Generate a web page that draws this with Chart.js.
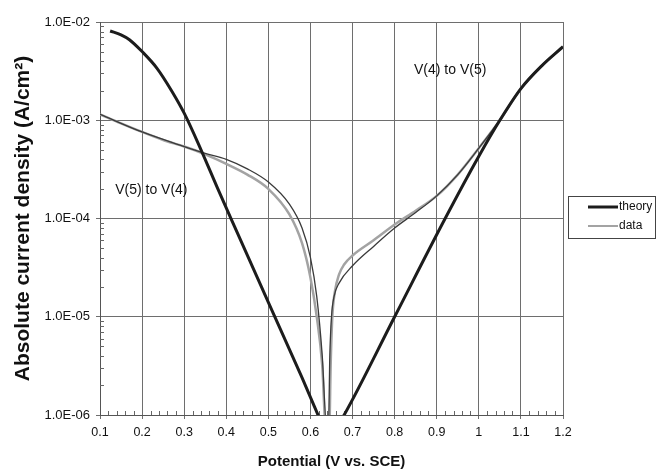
<!DOCTYPE html>
<html>
<head>
<meta charset="utf-8">
<script src="https://cdn.jsdelivr.net/npm/chart.js@4.4.1/dist/chart.umd.min.js"></script>
<style>
  html, body { margin: 0; padding: 0; background: #fff; }
  #wrap { width: 661px; height: 472px; }
</style>
</head>
<body>
<div id="wrap"><canvas id="chart"></canvas></div>
<script>
// theory curve (two Tafel branches), potential in V vs SCE, current in A/cm2
const theoryLeftV = [0.124, 0.15, 0.17, 0.2, 0.235, 0.27, 0.3, 0.34, 0.38, 0.42, 0.5, 0.58, 0.625];
const theoryLeftI = [8.1e-3, 7.4e-3, 6.6e-3, 5.0e-3, 3.4e-3, 2.0e-3, 1.18e-3, 5.0e-4, 2.0e-4, 8.2e-5, 1.4e-5, 2.4e-6, 8.5e-7];
const theoryRightV = [0.665, 0.68, 0.8, 0.92, 1.0, 1.05, 1.1, 1.15, 1.2];
const theoryRightI = [7.9e-7, 1.0e-6, 1.0e-5, 1.0e-4, 4.3e-4, 1.0e-3, 2.1e-3, 3.6e-3, 5.6e-3];

// measured data (grey trace)
const dataV = [0.1, 0.15, 0.2, 0.25, 0.3, 0.35, 0.4, 0.45, 0.5, 0.55, 0.58, 0.6, 0.615, 0.628, 0.636,
  0.645, 0.648, 0.652, 0.658, 0.668, 0.68, 0.7, 0.75, 0.8, 0.85, 0.9, 0.95, 1.0, 1.05, 1.1, 1.15, 1.2];
const dataI = [1.15e-3, 9.3e-4, 7.6e-4, 6.3e-4, 5.4e-4, 4.5e-4, 3.6e-4, 2.8e-4, 2.0e-4, 1.1e-4, 5.6e-5, 2.5e-5, 1.0e-5, 3.2e-6, 8e-7,
  8e-7, 3.2e-6, 1.0e-5, 1.8e-5, 2.7e-5, 3.4e-5, 4.2e-5, 6.0e-5, 8.7e-5, 1.2e-4, 1.7e-4, 2.8e-4, 5.2e-4, 1.0e-3, 2.1e-3, 3.6e-3, 5.6e-3];

// second (darker) scan running alongside the data
const scan2V = [0.1, 0.2, 0.3, 0.35, 0.4, 0.45, 0.5, 0.55, 0.58, 0.6, 0.615, 0.628, 0.638,
  0.643, 0.646, 0.65, 0.656, 0.668, 0.7, 0.75, 0.8, 0.85, 0.9, 0.95, 1.0, 1.05];
const scan2I = [1.15e-3, 7.6e-4, 5.4e-4, 4.6e-4, 4.0e-4, 3.2e-4, 2.35e-4, 1.4e-4, 8.0e-5, 4.0e-5, 1.6e-5, 4.0e-6, 8e-7,
  8e-7, 4.0e-6, 1.0e-5, 1.6e-5, 2.2e-5, 3.3e-5, 5.2e-5, 8.0e-5, 1.15e-4, 1.7e-4, 2.8e-4, 5.2e-4, 1.0e-3];

const yDecades = [1e-6, 1e-5, 1e-4, 1e-3, 1e-2];
const legendNames = ['theory', 'data'];

// annotation positions in data units
const notes = [
  { text: 'V(4) to V(5)', x: 0.846, y: 3.2e-3 },
  { text: 'V(5) to V(4)', x: 0.136, y: 1.95e-4 }
];

function pts(xs, ys) {
  return xs.map((x, i) => ({ x: x, y: ys[i] }));
}

const theoryColor = '#1c1c1c';
const dataColor = '#a3a3a3';
const font = 'Arial, "Liberation Sans", sans-serif';

const extras = {
  id: 'extras',
  beforeDatasetsDraw(chart) {
    const ctx = chart.ctx;
    const xs = chart.scales.x, ys = chart.scales.y;
    const area = chart.chartArea;
    ctx.save();
    ctx.strokeStyle = '#666';
    ctx.lineWidth = 1;
    ctx.beginPath();
    // minor ticks on the y axis
    for (let d = -6; d < -2; d++) {
      for (let k = 2; k < 10; k++) {
        const py = Math.round(ys.getPixelForValue(k * Math.pow(10, d))) + 0.5;
        ctx.moveTo(area.left, py);
        ctx.lineTo(area.left + 4, py);
      }
    }
    // minor ticks on the x axis
    for (let i = 1; i < 55; i++) {
      if (i % 5 === 0) continue;
      const px = Math.round(xs.getPixelForValue(0.1 + i * 0.02)) + 0.5;
      ctx.moveTo(px, area.bottom);
      ctx.lineTo(px, area.bottom - 4);
    }
    ctx.stroke();
    ctx.restore();
  },
  afterDraw(chart) {
    const ctx = chart.ctx;
    const xs = chart.scales.x, ys = chart.scales.y;
    const area = chart.chartArea;
    ctx.save();
    ctx.fillStyle = '#111';
    ctx.font = '14px ' + font;
    ctx.textAlign = 'left';
    ctx.textBaseline = 'middle';
    notes.forEach(n => {
      ctx.fillText(n.text, xs.getPixelForValue(n.x), ys.getPixelForValue(n.y));
    });

    // legend box
    const bx = area.right + 5, by = 196, bw = 87, bh = 42;
    ctx.strokeStyle = '#444';
    ctx.lineWidth = 1;
    ctx.strokeRect(bx + 0.5, by + 0.5, bw, bh);
    ctx.font = '12px ' + font;
    const cols = [theoryColor, dataColor];
    const widths = [3, 2];
    legendNames.forEach((name, i) => {
      const ly = by + 11 + i * 19;
      ctx.strokeStyle = cols[i];
      ctx.lineWidth = widths[i];
      ctx.beginPath();
      ctx.moveTo(bx + 20, ly);
      ctx.lineTo(bx + 50, ly);
      ctx.stroke();
      ctx.fillStyle = '#111';
      ctx.fillText(name, bx + 51, ly);
    });
    ctx.restore();
  }
};

new Chart(document.getElementById('chart'), {
  type: 'line',
  data: {
    datasets: [
      {
        label: 'theory',
        data: pts(theoryLeftV, theoryLeftI),
        borderColor: theoryColor,
        borderWidth: 3,
        pointRadius: 0,
        cubicInterpolationMode: 'monotone'
      },
      {
        label: 'theory',
        data: pts(theoryRightV, theoryRightI),
        borderColor: theoryColor,
        borderWidth: 3,
        pointRadius: 0,
        cubicInterpolationMode: 'monotone'
      },
      {
        label: 'scan 2',
        data: pts(scan2V, scan2I),
        borderColor: '#3a3a3a',
        borderWidth: 1.3,
        pointRadius: 0,
        cubicInterpolationMode: 'monotone'
      },
      {
        label: 'data',
        data: pts(dataV, dataI),
        borderColor: dataColor,
        borderWidth: 2.5,
        pointRadius: 0,
        cubicInterpolationMode: 'monotone'
      }
    ]
  },
  options: {
    responsive: true,
    maintainAspectRatio: false,
    animation: false,
    layout: { padding: { top: 22, right: 98, left: 0, bottom: 0 } },
    plugins: {
      legend: { display: false },
      tooltip: { enabled: false }
    },
    scales: {
      x: {
        type: 'linear',
        min: 0.1,
        max: 1.2,
        ticks: {
          stepSize: 0.1,
          color: '#111',
          font: { family: font, size: 12.5 },
          padding: 6,
          callback: v => String(Number(v.toFixed(1)))
        },
        grid: { color: '#6e6e6e', tickLength: 4 },
        border: { color: '#555' },
        title: {
          display: true,
          text: 'Potential (V vs. SCE)',
          color: '#111',
          font: { family: font, size: 15, weight: 'bold' },
          padding: { top: 0, bottom: 1 }
        },
        afterFit: s => { s.height = 57; }
      },
      y: {
        type: 'logarithmic',
        min: 1e-6,
        max: 1e-2,
        afterBuildTicks: s => { s.ticks = yDecades.map(v => ({ value: v })); },
        ticks: {
          color: '#111',
          font: { family: font, size: 13 },
          padding: 6,
          callback: v => v.toExponential(1).toUpperCase().replace(/E([+-])(\d)$/, 'E$10$2')
        },
        grid: { color: '#6e6e6e', tickLength: 4 },
        border: { color: '#555' },
        title: {
          display: true,
          text: 'Absolute current density (A/cm²)',
          color: '#111',
          font: { family: font, size: 21, weight: 'bold' },
          padding: { top: 11, bottom: 0 }
        },
        afterFit: s => { s.width = 100; }
      }
    }
  },
  plugins: [extras]
});
</script>
</body>
</html>
